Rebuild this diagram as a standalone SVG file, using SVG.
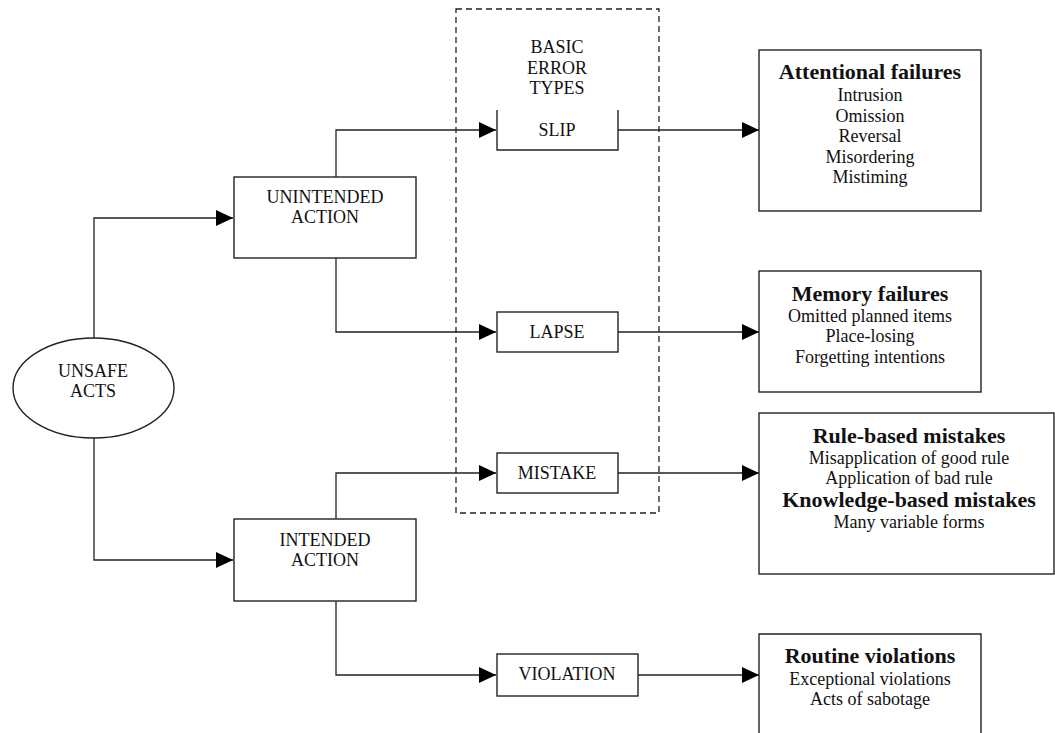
<svg xmlns="http://www.w3.org/2000/svg" width="1055" height="733" viewBox="0 0 1055 733">
<style>
.box{fill:#fff;stroke:#222;stroke-width:1.4}
.ln{fill:none;stroke:#222;stroke-width:1.3}
.t{font-family:"Liberation Serif","Times New Roman",serif;font-size:18px;fill:#111;text-anchor:middle}
.b{font-family:"Liberation Serif","Times New Roman",serif;font-size:22px;font-weight:bold;fill:#111;text-anchor:middle}
</style>
<defs>
<marker id="ah" markerUnits="userSpaceOnUse" markerWidth="18" markerHeight="18" refX="17" refY="8" orient="auto">
<path d="M0,0 L17,8 L0,16 Z" fill="#000"/>
</marker>
</defs>
<rect width="1055" height="733" fill="#fff"/>
<g id="basic-error-types">
<rect x="456" y="9" width="203" height="504" fill="none" stroke="#222" stroke-width="1.3" stroke-dasharray="6,4"/>
<text class="t" x="557" y="53">BASIC</text>
<text class="t" x="557" y="74">ERROR</text>
<text class="t" x="557" y="94">TYPES</text>
</g>
<g id="connectors">
<path class="ln" d="M94,338 V218 H233" marker-end="url(#ah)"/>
<path class="ln" d="M94,438 V560 H233" marker-end="url(#ah)"/>
<path class="ln" d="M336,177 V130 H496" marker-end="url(#ah)"/>
<path class="ln" d="M336,258 V332 H496" marker-end="url(#ah)"/>
<path class="ln" d="M336,519 V473 H496" marker-end="url(#ah)"/>
<path class="ln" d="M336,601 V675 H496" marker-end="url(#ah)"/>
<path class="ln" d="M618,130 H759" marker-end="url(#ah)"/>
<path class="ln" d="M618,332 H759" marker-end="url(#ah)"/>
<path class="ln" d="M618,473 H759" marker-end="url(#ah)"/>
<path class="ln" d="M638,675 H759" marker-end="url(#ah)"/>
</g>
<g id="unsafe-acts">
<ellipse class="box" cx="93.5" cy="388" rx="80.5" ry="50"/>
<text class="t" x="93" y="377">UNSAFE</text>
<text class="t" x="93" y="397">ACTS</text>
</g>
<g id="unintended-action">
<rect class="box" x="234" y="177" width="182" height="81"/>
<text class="t" x="325" y="203">UNINTENDED</text>
<text class="t" x="325" y="223">ACTION</text>
</g>
<g id="intended-action">
<rect class="box" x="234" y="519" width="182" height="82"/>
<text class="t" x="325" y="546">INTENDED</text>
<text class="t" x="325" y="566">ACTION</text>
</g>
<g id="slip">
<path class="box" d="M497,110 V150 H618 V110" fill="none"/>
<text class="t" x="557" y="136">SLIP</text>
</g>
<g id="lapse">
<rect class="box" x="497" y="312" width="121" height="40"/>
<text class="t" x="557" y="338">LAPSE</text>
</g>
<g id="mistake">
<rect class="box" x="497" y="453" width="121" height="40"/>
<text class="t" x="557" y="479">MISTAKE</text>
</g>
<g id="violation">
<rect class="box" x="497" y="654" width="141" height="42"/>
<text class="t" x="567" y="680">VIOLATION</text>
</g>
<g id="attentional-failures">
<rect class="box" x="759" y="50" width="222" height="161"/>
<text class="b" x="870" y="79">Attentional failures</text>
<text class="t" x="870" y="101">Intrusion</text>
<text class="t" x="870" y="122">Omission</text>
<text class="t" x="870" y="142">Reversal</text>
<text class="t" x="870" y="163">Misordering</text>
<text class="t" x="870" y="183">Mistiming</text>
</g>
<g id="memory-failures">
<rect class="box" x="759" y="271" width="222" height="121"/>
<text class="b" x="870" y="301">Memory failures</text>
<text class="t" x="870" y="322">Omitted planned items</text>
<text class="t" x="870" y="342">Place-losing</text>
<text class="t" x="870" y="363">Forgetting intentions</text>
</g>
<g id="mistakes">
<rect class="box" x="759" y="413" width="295" height="161"/>
<text class="b" x="909" y="443">Rule-based mistakes</text>
<text class="t" x="909" y="464">Misapplication of good rule</text>
<text class="t" x="909" y="484">Application of bad rule</text>
<text class="b" x="909" y="507">Knowledge-based mistakes</text>
<text class="t" x="909" y="528">Many variable forms</text>
</g>
<g id="violations">
<path class="box" d="M759,740 V634 H981 V740"/>
<text class="b" x="870" y="663">Routine violations</text>
<text class="t" x="870" y="685">Exceptional violations</text>
<text class="t" x="870" y="705">Acts of sabotage</text>
</g>
</svg>
